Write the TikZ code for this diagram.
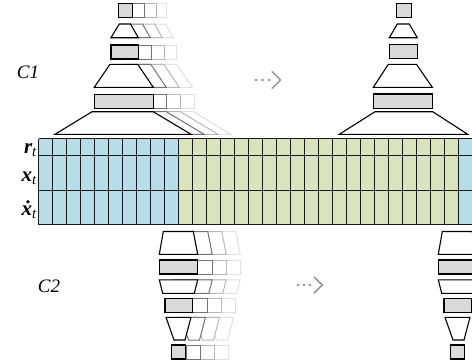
\documentclass[tikz,border=0pt]{standalone}
\usepackage{fontspec}
\setmainfont{Liberation Serif}
\definecolor{cellblue}{HTML}{B7DEE8}
\definecolor{cellgreen}{HTML}{D7E4BD}
\definecolor{boxgray}{HTML}{D9D9D9}
\definecolor{dotgray}{HTML}{8C8C8C}
\tikzset{
  gridline/.style={draw=black!90, line width=1.3pt},
  orig/.style={draw=black, line width=1.1pt, line join=miter},
  ghostA/.style={draw=black!55, line width=1pt, fill=white},
  ghostB/.style={draw=black!28, line width=1pt, fill=white},
  ghostC/.style={draw=black!12, line width=1pt, fill=white},
  dotarrow/.style={draw=dotgray, line width=1.4pt, line cap=round, line join=round},
  rowlab/.style={anchor=base east, inner sep=0pt, font=\fontsize{21}{22}\selectfont\bfseries\itshape},
  clab/.style={inner sep=0pt, font=\fontsize{19}{21}\selectfont\itshape},
}
\newcommand\subt{\textsubscript{\mdseries\itshape t}}
% box with three ghosts: x1 y1 x2 y2 d1 d2 d3
\newcommand\GBox[7]{%
  \filldraw[ghostC] ({#1+#7},#2) rectangle ({#3+#7},#4);
  \filldraw[ghostB] ({#1+#6},#2) rectangle ({#3+#6},#4);
  \filldraw[ghostA] ({#1+#5},#2) rectangle ({#3+#5},#4);
  \filldraw[orig, fill=boxgray] (#1,#2) rectangle (#3,#4);}
\newcommand\PBox[4]{%
  \filldraw[orig, fill=boxgray] (#1,#2) rectangle (#3,#4);}
% trapezoid: xtl xtr yt xbl xbr yb, ghost offsets in \ga \gb \gc
\newcommand\GTrap[6]{%
  \filldraw[ghostC] ({#1+\gc},#3) -- ({#2+\gc},#3) -- ({#5+\gc},#6) -- ({#4+\gc},#6) -- cycle;
  \filldraw[ghostB] ({#1+\gb},#3) -- ({#2+\gb},#3) -- ({#5+\gb},#6) -- ({#4+\gb},#6) -- cycle;
  \filldraw[ghostA] ({#1+\ga},#3) -- ({#2+\ga},#3) -- ({#5+\ga},#6) -- ({#4+\ga},#6) -- cycle;
  \filldraw[orig, fill=white] (#1,#3) -- (#2,#3) -- (#5,#6) -- (#4,#6) -- cycle;}
\newcommand\PTrap[6]{%
  \filldraw[orig, fill=white] (#1,#3) -- (#2,#3) -- (#5,#6) -- (#4,#6) -- cycle;}
\begin{document}
\begin{tikzpicture}[x=1pt,y=-1pt]
\useasboundingbox (0,0) rectangle (472,362);
\begin{scope}
\clip (0,0) rectangle (472,362);
% ---------------- grid ----------------
\fill[cellblue] (38.5,138.5) rectangle (178.5,224.5);
\fill[cellgreen] (178.5,138.5) rectangle (458.5,224.5);
\fill[cellblue] (458.5,138.5) rectangle (480,224.5);
\foreach \i in {0,...,30} \draw[gridline] ({38.5+14*\i},138.5) -- ({38.5+14*\i},224.5);
\foreach \y in {138.5,155.5,190.5,224.5} \draw[gridline] (38.5,\y) -- (480,\y);

% ---------------- C1 left stack (with ghosts) ----------------
\GBox{118.3}{3.3}{132.7}{17.3}{12}{24}{34}
\def\ga{12}\def\gb{24}\def\gc{35}
\GTrap{119.3}{130.5}{24}{111}{138.3}{37.7}
\GBox{111}{45}{138.3}{59}{13}{26}{38}
\def\ga{13}\def\gb{26}\def\gc{39}
\GTrap{110}{137.7}{64.3}{94.3}{153.3}{87.3}
\GBox{94.3}{94.3}{153.3}{108.3}{13}{27}{41}
\def\ga{13}\def\gb{27}\def\gc{40}
\GTrap{92}{153.3}{111.7}{55}{191}{134.3}

% ---------------- C1 right stack ----------------
\PBox{396.7}{3.3}{411.7}{17.7}
\PTrap{397.3}{409.3}{24}{389.3}{417.3}{37.7}
\PBox{389.3}{44.3}{417.3}{58.3}
\PTrap{388.3}{416.5}{64.3}{373.3}{432.3}{87.3}
\PBox{373.3}{94}{432.3}{108.3}
\PTrap{375}{432.7}{111.7}{339.3}{467.7}{134.3}

% ---------------- C2 left stack (with ghosts) ----------------
\def\ga{14.5}\def\gb{28.5}\def\gc{42.5}
\GTrap{163.3}{193.3}{231.5}{159.3}{197.7}{254.3}
\GBox{159.3}{260}{197.7}{274}{14.5}{28.5}{42.5}
\GTrap{159.3}{197.7}{279.8}{162.7}{194.3}{293.3}
\GBox{165}{298.3}{192.7}{312.7}{14.5}{28.5}{42.5}
\GTrap{166}{191}{317.3}{174}{185}{340}
\GBox{171.7}{345}{185.5}{359}{14.5}{28.5}{42.5}

% ---------------- C2 right stack ----------------
\PTrap{442.3}{472.3}{231.5}{438.3}{476.7}{254.3}
\PBox{438.3}{260}{476.7}{274}
\PTrap{438.3}{476.7}{279.8}{441.7}{473.3}{293.3}
\PBox{444}{298.3}{471.7}{312.7}
\PTrap{445}{470}{317.3}{453}{464}{340}
\PBox{450.7}{345}{464.5}{359}
\end{scope}

% ---------------- dotted arrows ----------------
\foreach \x in {256,262.5,269} \fill[dotgray] (\x,80) circle (1.4);
\draw[dotarrow] (272,71.5) -- (280.5,80) -- (272,88.5);
\foreach \x in {298,304,310} \fill[dotgray] (\x,285) circle (1.4);
\draw[dotarrow] (314,277) -- (322.3,285) -- (314,293);

% ---------------- labels ----------------
\node[clab] (c1) at (28,72) {C1};
\node[clab] (c2) at (49,286.5) {C2};
\node[rowlab] (rt) at (37,153) {r\subt};
\node[rowlab] (xt) at (37,181.7) {x\subt};
\node[rowlab] (xdt) at (37,215) {\char"1E8B\subt};
\end{tikzpicture}
\end{document}
